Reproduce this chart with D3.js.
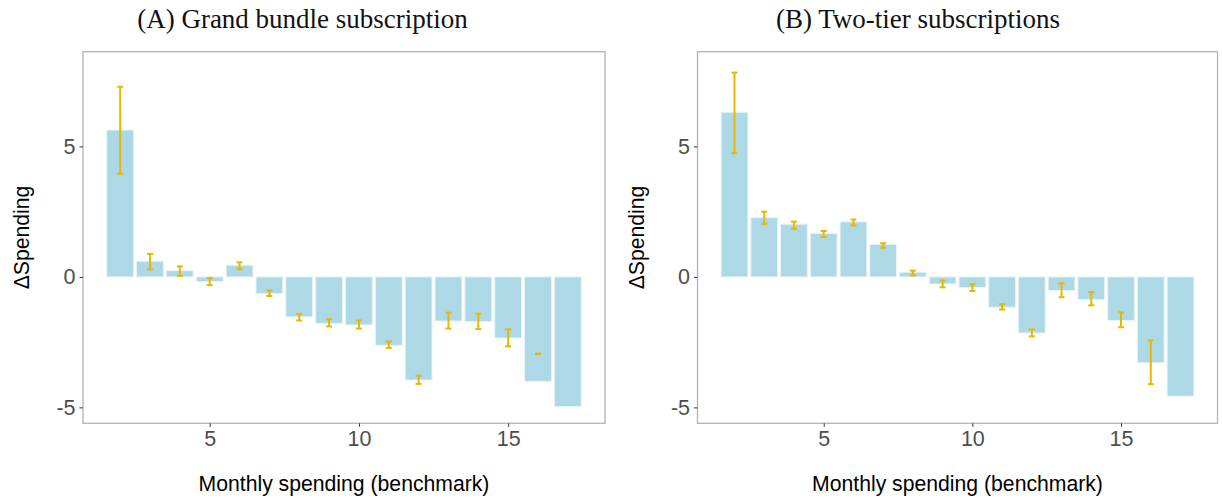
<!DOCTYPE html>
<html>
<head>
<meta charset="utf-8">
<script src="https://cdn.jsdelivr.net/npm/d3@7"></script>
<style>
  html, body { margin: 0; padding: 0; background: #fff; }
  svg { display: block; }
</style>
</head>
<body>
<svg id="chart" width="1222" height="500"></svg>
<script>
// Benchmark monthly spending levels (bar positions)
const spendingLevels = [2, 3, 4, 5, 6, 7, 8, 9, 10, 11, 12, 13, 14, 15, 16, 17];

// Panel A: grand bundle subscription — change in spending
const bundleDelta = [5.63, 0.60, 0.24, -0.18, 0.45, -0.64, -1.53, -1.78, -1.84, -2.62, -3.95, -1.69, -1.71, -2.34, -4.00, -4.97];
const bundleLow   = [3.95, 0.29, 0.04, -0.31, 0.29, -0.73, -1.67, -1.90, -1.98, -2.72, -4.10, -1.98, -2.00, -2.66, -2.95, null];
const bundleHigh  = [7.29, 0.88, 0.40, -0.04, 0.56, -0.52, -1.42, -1.62, -1.67, -2.48, -3.78, -1.37, -1.41, -2.01, -2.95, null];

// Panel B: two-tier subscriptions — change in spending
const tierDelta = [6.31, 2.27, 2.02, 1.67, 2.11, 1.24, 0.18, -0.27, -0.41, -1.16, -2.15, -0.52, -0.87, -1.67, -3.29, -4.57];
const tierLow   = [4.74, 2.03, 1.84, 1.53, 1.97, 1.12, 0.06, -0.40, -0.54, -1.25, -2.28, -0.78, -1.09, -1.93, -4.11, null];
const tierHigh  = [7.83, 2.50, 2.12, 1.76, 2.20, 1.29, 0.24, -0.14, -0.28, -1.05, -2.01, -0.24, -0.58, -1.36, -2.43, null];

const xTicks = [5, 10, 15];
const yTicks = [-5, 0, 5];
const yTickLabels = ["-5", "0", "5"];

const panelTitles = ["(A) Grand bundle subscription", "(B) Two-tier subscriptions"];
const xAxisTitle = "Monthly spending (benchmark)";
const yAxisTitle = "\u0394Spending";

const panels = [
  { title: panelTitles[0], delta: bundleDelta, low: bundleLow, high: bundleHigh,
    left: 83, right: 605, figLeft: 0, figRight: 605 },
  { title: panelTitles[1], delta: tierDelta, low: tierLow, high: tierHigh,
    left: 697.5, right: 1217.5, figLeft: 614, figRight: 1222 }
];

const plotTop = 51.7, plotBottom = 423.3;
const barWidth = 0.9;
const barFill = "#add8e6";
const errColor = "#e7b800";
const borderColor = "#b3b3b3";
const tickTextColor = "#4d4d4d";
const sansFont = "'Liberation Sans', Arial, sans-serif";

const svg = d3.select("#chart");

panels.forEach(p => {
  const rows = spendingLevels.map((s, i) => ({ s, v: p.delta[i], lo: p.low[i], hi: p.high[i] }));

  const x = d3.scaleLinear()
    .domain([0.755, 18.245])
    .range([p.left, p.right]);
  const y = d3.scaleLinear()
    .domain([-5.61, 8.63])
    .range([plotBottom, plotTop]);

  const g = svg.append("g");

  // bars
  g.selectAll("rect.bar")
    .data(rows)
    .join("rect")
    .attr("class", "bar")
    .attr("x", d => x(d.s - barWidth / 2))
    .attr("width", d => x(d.s + barWidth / 2) - x(d.s - barWidth / 2))
    .attr("y", d => y(Math.max(0, d.v)))
    .attr("height", d => Math.abs(y(d.v) - y(0)))
    .attr("fill", barFill)
    .attr("stroke", "#e8f4f8")
    .attr("stroke-width", 1);

  // error bars
  const eb = rows.filter(d => d.lo !== null);
  const capHalf = 3;
  const errG = g.append("g")
    .attr("stroke", errColor)
    .attr("stroke-width", 2)
    .attr("fill", "none");
  errG.selectAll("line.v")
    .data(eb)
    .join("line")
    .attr("class", "v")
    .attr("x1", d => x(d.s)).attr("x2", d => x(d.s))
    .attr("y1", d => y(d.hi)).attr("y2", d => y(d.lo));
  errG.selectAll("line.capHi")
    .data(eb)
    .join("line")
    .attr("class", "capHi")
    .attr("x1", d => x(d.s) - capHalf).attr("x2", d => x(d.s) + capHalf)
    .attr("y1", d => y(d.hi)).attr("y2", d => y(d.hi));
  errG.selectAll("line.capLo")
    .data(eb)
    .join("line")
    .attr("class", "capLo")
    .attr("x1", d => x(d.s) - capHalf).attr("x2", d => x(d.s) + capHalf)
    .attr("y1", d => y(d.lo)).attr("y2", d => y(d.lo));

  // panel border
  g.append("rect")
    .attr("x", p.left).attr("y", plotTop)
    .attr("width", p.right - p.left).attr("height", plotBottom - plotTop)
    .attr("fill", "none")
    .attr("stroke", borderColor)
    .attr("stroke-width", 1.3);

  // x axis
  const xAxis = g.append("g")
    .attr("transform", `translate(0,${plotBottom})`)
    .call(d3.axisBottom(x).tickValues(xTicks).tickSize(3.5).tickPadding(4).tickFormat(d3.format("d")));
  xAxis.select(".domain").remove();
  xAxis.selectAll(".tick line").attr("stroke", "#333").attr("stroke-width", 1);
  xAxis.selectAll(".tick text")
    .attr("fill", tickTextColor)
    .style("font-family", sansFont)
    .style("font-size", "21.5px");

  // y axis (hyphen-minus labels)
  const yAxis = g.append("g")
    .attr("transform", `translate(${p.left},0)`)
    .call(d3.axisLeft(y).tickValues(yTicks).tickSize(3.5).tickPadding(4)
      .tickFormat((d, i) => yTickLabels[i]));
  yAxis.select(".domain").remove();
  yAxis.selectAll(".tick line").attr("stroke", "#333").attr("stroke-width", 1);
  yAxis.selectAll(".tick text")
    .attr("fill", tickTextColor)
    .style("font-family", sansFont)
    .style("font-size", "21.5px");

  // axis titles
  g.append("text")
    .attr("x", (p.left + p.right) / 2)
    .attr("y", 491)
    .attr("text-anchor", "middle")
    .attr("fill", "#000")
    .style("font-family", sansFont)
    .style("font-size", "21.2px")
    .text(xAxisTitle);

  g.append("text")
    .attr("transform", `translate(${p.left - 54},${(plotTop + plotBottom) / 2}) rotate(-90)`)
    .attr("text-anchor", "middle")
    .attr("fill", "#000")
    .style("font-family", sansFont)
    .style("font-size", "21.2px")
    .text(yAxisTitle);

  // panel title
  g.append("text")
    .attr("x", (p.figLeft + p.figRight) / 2)
    .attr("y", 28)
    .attr("text-anchor", "middle")
    .attr("fill", "#111")
    .style("font-family", "'Liberation Serif', 'Times New Roman', serif")
    .style("font-size", "27px")
    .text(p.title);
});
</script>
</body>
</html>
